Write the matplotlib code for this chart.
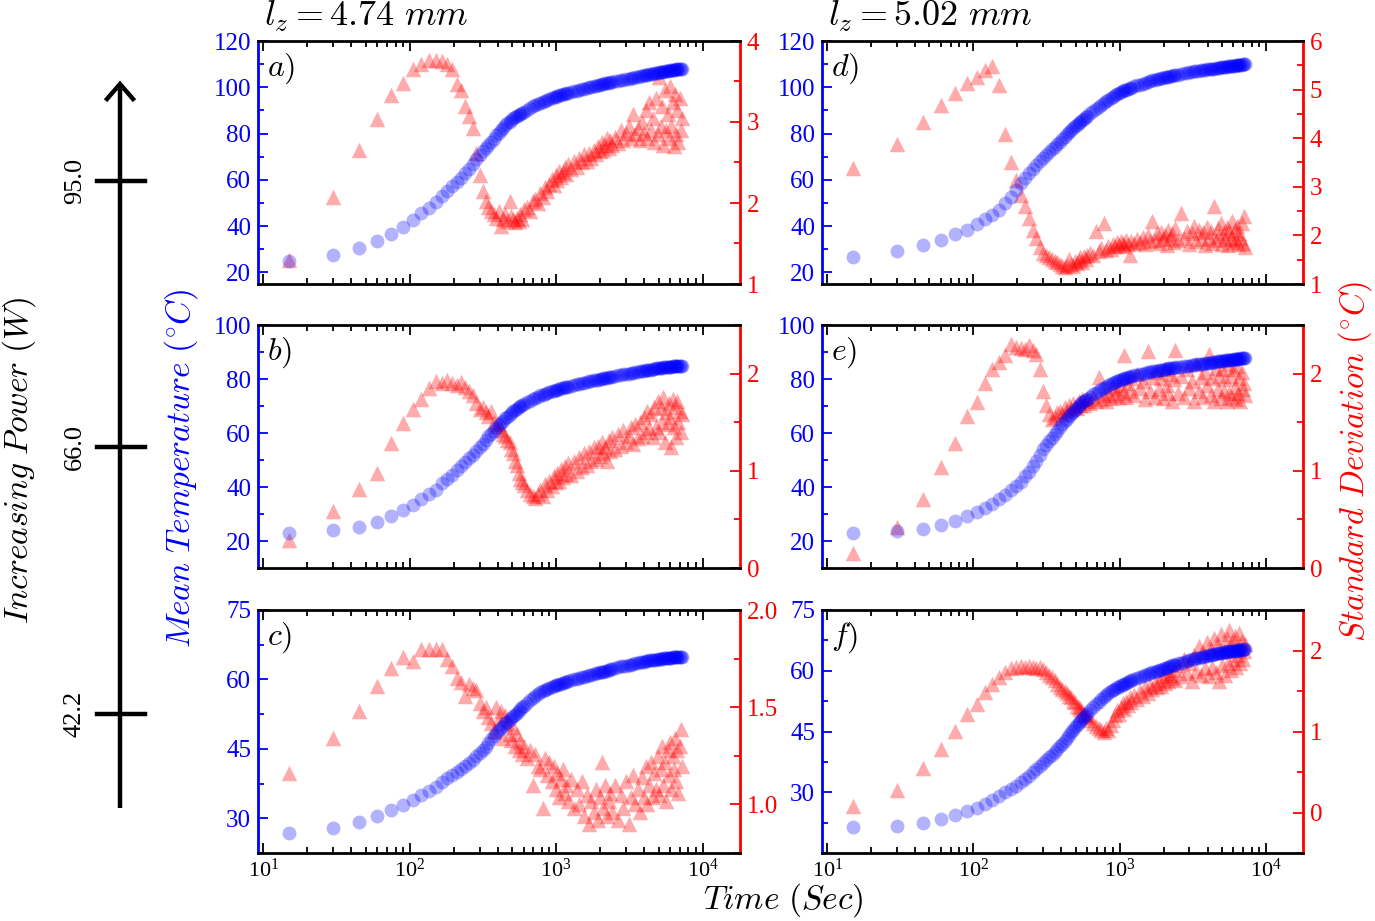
import matplotlib
matplotlib.use("Agg")
import matplotlib.pyplot as plt
import numpy as np
from matplotlib.ticker import FixedLocator, MultipleLocator, LogLocator, FuncFormatter, NullFormatter

plt.rcParams["font.family"] = ["Liberation Serif", "DejaVu Serif"]
plt.rcParams["mathtext.fontset"] = "cm"

# sample times (s), shared by all six runs
time_s = [15, 30, 45, 60, 75, 90, 105, 120, 135, 150,
          165, 180, 195, 210, 225, 240, 255, 270, 285, 300,
          315, 330, 345, 360, 375, 390, 405, 420, 435, 450,
          465, 480, 495, 510, 525, 540, 555, 570, 585, 600,
          630, 660, 690, 720, 750, 780, 810, 840, 870, 900,
          930, 960, 990, 1020, 1050, 1080, 1110, 1140, 1170, 1200,
          1260, 1320, 1380, 1440, 1500, 1560, 1620, 1680, 1740, 1800,
          1860, 1920, 1980, 2040, 2100, 2160, 2220, 2280, 2340, 2400,
          2520, 2640, 2760, 2880, 3000, 3120, 3240, 3360, 3480, 3600,
          3720, 3840, 3960, 4080, 4200, 4320, 4440, 4560, 4680, 4800,
          4920, 5040, 5160, 5280, 5400, 5520, 5640, 5760, 5880, 6000,
          6120, 6240, 6360, 6480, 6600, 6720, 6840, 6960, 7080, 7200]

# lz = 4.74 mm, 95.0 W
temp_a = [25, 27.5, 30.5, 33.5, 36.5, 39.5, 42.5, 45.5, 48, 50.5,
          53, 55.3, 57.3, 59.2, 61, 62.8, 64.8, 66.8, 68.8, 70.7,
          72.3, 73.8, 75.2, 76.5, 77.8, 79.2, 80.4, 81.5, 82.5, 83.5,
          84.4, 85.2, 85.9, 86.6, 87.1, 87.5, 88, 88.5, 89, 89.5,
          90.3, 91.1, 91.7, 92.3, 92.8, 93.3, 93.8, 94.2, 94.6, 95,
          95.3, 95.6, 95.9, 96.2, 96.5, 96.7, 97, 97.2, 97.4, 97.6,
          98, 98.3, 98.6, 98.9, 99.2, 99.4, 99.7, 100, 100.2, 100.4,
          100.7, 100.9, 101.1, 101.3, 101.5, 101.7, 101.8, 102, 102.1, 102.2,
          102.5, 102.8, 103, 103.3, 103.5, 103.7, 103.9, 104.2, 104.4, 104.6,
          104.8, 105, 105.1, 105.3, 105.5, 105.6, 105.8, 105.9, 106.1, 106.2,
          106.3, 106.5, 106.6, 106.7, 106.8, 106.9, 107, 107.1, 107.2, 107.3,
          107.4, 107.5, 107.5, 107.6, 107.7, 107.8, 107.8, 107.9, 108, 108]
std_a = [1.3, 2.08, 2.66, 3.04, 3.33, 3.48, 3.66, 3.72, 3.76, 3.76,
         3.75, 3.72, 3.66, 3.47, 3.4, 3.2, 3.08, 2.93, 2.62, 2.35,
         2.15, 2.02, 1.95, 1.9, 1.86, 1.82, 1.9, 1.72, 1.8, 1.86,
         1.78, 2.02, 1.84, 1.8, 1.76, 1.82, 1.78, 1.86, 1.8, 1.92,
         1.95, 1.9, 2.02, 2.05, 2.0, 2.12, 2.08, 2.2, 2.15, 2.24,
         2.3, 2.22, 2.35, 2.28, 2.4, 2.32, 2.38, 2.45, 2.36, 2.48,
         2.42, 2.52, 2.45, 2.56, 2.5, 2.6, 2.52, 2.62, 2.56, 2.66,
         2.6, 2.7, 2.64, 2.75, 2.66, 2.72, 2.8, 2.68, 2.78, 2.72,
         2.82, 2.74, 2.9, 2.78, 2.86, 2.95, 2.8, 3.1, 2.85, 2.92,
         2.78, 3.0, 2.86, 3.15, 2.8, 3.25, 2.9, 3.05, 2.75, 3.3,
         2.85, 3.55, 2.95, 3.2, 2.72, 3.4, 2.9, 3.1, 2.8, 3.45,
         2.95, 3.25, 2.7, 3.35, 2.85, 3.15, 2.75, 3.3, 2.9, 3.05]

# lz = 4.74 mm, 66.0 W
temp_b = [23, 24, 25.3, 27, 29.2, 31.4, 33.5, 35.5, 37.3, 39,
          41.3, 43, 44.6, 46.2, 47.7, 49.2, 50.6, 52, 53.4, 54.8,
          56, 57.3, 58.8, 59.8, 60.9, 62, 62.9, 63.8, 64.6, 65.4,
          66.1, 66.8, 67.4, 68, 68.5, 69, 69.5, 69.9, 70.3, 70.7,
          71.4, 72, 72.5, 73, 73.5, 73.9, 74.2, 74.6, 74.9, 75.2,
          75.5, 75.7, 76, 76.1, 76.3, 76.5, 76.7, 76.9, 77.1, 77.2,
          77.5, 77.8, 78, 78.2, 78.5, 78.7, 78.9, 79.1, 79.3, 79.5,
          79.6, 79.8, 79.9, 80.1, 80.2, 80.4, 80.5, 80.6, 80.8, 80.9,
          81.1, 81.3, 81.5, 81.7, 81.9, 82, 82.2, 82.3, 82.5, 82.6,
          82.8, 82.9, 83, 83.2, 83.3, 83.4, 83.5, 83.7, 83.8, 83.9,
          84, 84.1, 84.2, 84.2, 84.3, 84.4, 84.4, 84.5, 84.5, 84.6,
          84.6, 84.7, 84.7, 84.8, 84.8, 84.9, 84.9, 84.9, 85, 85]
std_b = [0.29, 0.59, 0.81, 0.98, 1.29, 1.49, 1.64, 1.74, 1.85, 1.92,
         1.9, 1.93, 1.9, 1.88, 1.91, 1.86, 1.82, 1.78, 1.7, 1.64,
         1.66, 1.6, 1.56, 1.62, 1.5, 1.46, 1.48, 1.42, 1.38, 1.36,
         1.32, 1.3, 1.22, 1.18, 1.1, 1.06, 0.98, 0.92, 0.88, 0.85,
         0.8, 0.76, 0.74, 0.72, 0.76, 0.8, 0.74, 0.86, 0.8, 0.9,
         0.84, 0.95, 0.88, 0.98, 0.9, 1.02, 0.94, 1.05, 0.97, 1.08,
         0.96, 1.1, 1.0, 1.14, 1.04, 1.18, 1.06, 1.2, 1.1, 1.24,
         1.12, 1.26, 1.15, 1.3, 1.18, 1.25, 1.1, 1.32, 1.2, 1.35,
         1.22, 1.38, 1.26, 1.42, 1.3, 1.36, 1.45, 1.28, 1.48, 1.34,
         1.5, 1.36, 1.55, 1.4, 1.62, 1.44, 1.58, 1.35, 1.66, 1.45,
         1.72, 1.4, 1.65, 1.5, 1.76, 1.3, 1.6, 1.48, 1.7, 1.55,
         1.25, 1.74, 1.45, 1.66, 1.35, 1.72, 1.5, 1.62, 1.4, 1.58]

# lz = 4.74 mm, 42.2 W
temp_c = [26.8, 28, 29.1, 30.5, 31.7, 32.8, 34, 35, 35.9, 36.8,
          37.9, 38.7, 39.4, 40, 40.6, 41.3, 42, 42.7, 43.4, 44.1,
          44.8, 45.5, 46.2, 47.2, 47.8, 48.4, 49, 49.5, 50, 50.5,
          50.9, 51.3, 51.7, 52, 52.4, 52.8, 53.2, 53.6, 54, 54.3,
          54.9, 55.5, 56, 56.4, 56.8, 57.2, 57.5, 57.7, 57.9, 58.1,
          58.3, 58.5, 58.7, 58.8, 59, 59.1, 59.3, 59.4, 59.5, 59.6,
          59.8, 60, 60.2, 60.3, 60.5, 60.6, 60.8, 60.9, 61, 61.1,
          61.3, 61.4, 61.5, 61.6, 61.7, 61.8, 61.9, 62, 62.2, 62.3,
          62.5, 62.6, 62.8, 62.9, 63, 63.1, 63.2, 63.4, 63.5, 63.6,
          63.7, 63.7, 63.8, 63.9, 64, 64.1, 64.1, 64.2, 64.3, 64.3,
          64.4, 64.4, 64.5, 64.5, 64.6, 64.6, 64.6, 64.7, 64.7, 64.7,
          64.7, 64.8, 64.8, 64.8, 64.8, 64.9, 64.9, 64.9, 64.9, 64.9]
std_c = [1.16, 1.34, 1.48, 1.61, 1.7, 1.76, 1.74, 1.8, 1.8, 1.8,
         1.8, 1.75, 1.71, 1.65, 1.63, 1.56, 1.62, 1.6, 1.59, 1.52,
         1.48, 1.5, 1.45, 1.42, 1.38, 1.5, 1.44, 1.48, 1.34, 1.46,
         1.42, 1.36, 1.33, 1.4, 1.3, 1.36, 1.28, 1.32, 1.26, 1.3,
         1.24, 1.28, 1.1, 1.26, 1.2, 1.18, 0.98, 1.24, 1.15, 1.22,
         1.12, 1.2, 1.08, 1.16, 1.04, 1.13, 1.18, 1.06, 1.1, 1.02,
         1.13, 0.98, 1.08, 1.0, 1.12, 0.94, 1.05, 0.9, 1.02, 0.96,
         1.08, 0.92, 1.04, 1.22, 0.98, 1.1, 0.94, 1.02, 1.06, 0.96,
         1.1, 0.92, 1.05, 0.98, 1.12, 0.9, 1.04, 1.15, 1.0, 1.08,
         0.96, 1.14, 1.04, 1.2, 1.0, 1.1, 1.22, 1.04, 1.16, 1.08,
         1.25, 1.05, 1.18, 1.3, 1.1, 1.22, 1.02, 1.28, 1.15, 1.32,
         1.08, 1.25, 1.18, 1.34, 1.12, 1.28, 1.06, 1.3, 1.39, 1.2]

# lz = 5.02 mm, 95.0 W
temp_d = [26.6, 29.2, 31.7, 34.2, 36.4, 38.5, 40.9, 42.9, 44.8, 47,
          49.9, 52.8, 55.8, 58.7, 60.9, 62.9, 64.8, 66.5, 68, 69.4,
          70.8, 72, 73.2, 74.3, 75.3, 76.5, 77.6, 78.6, 79.6, 80.5,
          81.4, 82.3, 83.1, 83.9, 84.6, 85.2, 85.9, 86.5, 87.1, 87.6,
          88.7, 89.8, 90.8, 91.6, 92.4, 93.2, 93.9, 94.6, 95.3, 96,
          96.6, 97.1, 97.6, 98, 98.4, 98.7, 99, 99.3, 99.6, 99.9,
          100.4, 100.8, 101.2, 101.6, 102, 102.4, 102.7, 103.1, 103.3, 103.5,
          103.7, 103.9, 104.1, 104.3, 104.5, 104.6, 104.8, 104.9, 105.1, 105.2,
          105.5, 105.7, 106, 106.2, 106.5, 106.7, 106.9, 107, 107.2, 107.4,
          107.5, 107.6, 107.7, 107.8, 107.9, 108, 108.1, 108.3, 108.4, 108.5,
          108.6, 108.7, 108.7, 108.8, 108.9, 109, 109.1, 109.2, 109.3, 109.4,
          109.4, 109.5, 109.5, 109.6, 109.7, 109.7, 109.8, 109.9, 109.9, 110]
std_d = [3.38, 3.88, 4.33, 4.69, 4.94, 5.13, 5.25, 5.41, 5.48, 5.1,
         4.09, 3.5, 3.15, 2.84, 2.6, 2.35, 2.11, 1.94, 1.76, 1.63,
         1.6, 1.56, 1.52, 1.48, 1.45, 1.42, 1.38, 1.36, 1.4, 1.52,
         1.42, 1.38, 1.48, 1.44, 1.5, 1.55, 1.46, 1.58, 1.52, 1.6,
         1.64, 1.6, 2.1, 1.68, 1.74, 2.25, 1.7, 1.78, 1.72, 1.83,
         1.78, 1.86, 1.8, 1.88, 1.84, 1.78, 1.9, 1.82, 1.59, 1.88,
         1.84, 1.93, 1.86, 1.97, 1.82, 2.0, 1.88, 2.3, 1.9, 2.05,
         1.85, 2.08, 1.92, 2.0, 1.8, 2.12, 1.95, 2.05, 1.86, 2.15,
         1.9, 2.46, 1.95, 2.1, 1.82, 2.04, 2.2, 1.88, 2.12, 1.92,
         2.06, 1.8, 2.18, 1.95, 2.1, 1.85, 2.6, 1.9, 2.15, 1.98,
         2.25, 1.82, 2.05, 1.92, 2.18, 1.8, 2.1, 1.95, 2.3, 1.86,
         2.12, 1.9, 2.2, 1.82, 2.05, 1.95, 2.25, 1.85, 2.4, 1.76]

# lz = 5.02 mm, 66.0 W
temp_e = [23.1, 23.8, 24.6, 25.9, 27.5, 29.2, 30.7, 32.2, 33.8, 35.5,
          37.2, 38.8, 40.5, 42, 43.9, 45.7, 47.6, 49.5, 51.8, 54,
          55.6, 57, 58.3, 59.6, 60.9, 62.1, 63.2, 64.3, 65.3, 66.3,
          67.1, 67.9, 68.7, 69.4, 70.1, 70.7, 71.3, 71.8, 72.3, 72.7,
          73.5, 74.3, 75, 75.6, 76.2, 76.7, 77.2, 77.7, 78.2, 78.6,
          79, 79.3, 79.6, 79.8, 80.1, 80.3, 80.5, 80.7, 80.9, 81,
          81.3, 81.6, 81.8, 82, 82.3, 82.5, 82.6, 82.8, 83, 83.1,
          83.3, 83.4, 83.5, 83.7, 83.8, 83.9, 84, 84.1, 84.2, 84.3,
          84.5, 84.6, 84.8, 84.9, 85, 85.2, 85.3, 85.4, 85.5, 85.6,
          85.7, 85.8, 85.9, 86, 86.1, 86.2, 86.3, 86.4, 86.5, 86.6,
          86.6, 86.7, 86.8, 86.9, 86.9, 87, 87.1, 87.1, 87.2, 87.3,
          87.3, 87.4, 87.4, 87.5, 87.5, 87.6, 87.6, 87.7, 87.7, 87.8]
std_e = [0.15, 0.42, 0.71, 1.04, 1.29, 1.56, 1.71, 1.9, 2.05, 2.12,
         2.19, 2.3, 2.27, 2.26, 2.25, 2.29, 2.24, 2.2, 2.05, 1.82,
         1.68, 1.58, 1.53, 1.55, 1.6, 1.62, 1.58, 1.66, 1.62, 1.68,
         1.64, 1.7, 1.66, 1.65, 1.72, 1.68, 1.74, 1.68, 1.72, 1.74,
         1.7, 1.76, 1.72, 1.96, 1.74, 1.78, 1.72, 1.8, 1.75, 1.86,
         1.78, 1.84, 1.76, 1.88, 1.8, 2.19, 1.76, 1.9, 1.82, 1.95,
         1.78, 2.0, 1.85, 1.92, 1.74, 2.23, 1.82, 1.96, 1.76, 2.02,
         1.84, 1.95, 1.75, 2.05, 1.88, 1.8, 2.0, 1.72, 1.94, 2.24,
         1.8, 1.98, 1.76, 2.05, 1.85, 1.92, 1.72, 2.1, 1.82, 1.96,
         1.76, 2.02, 1.88, 2.2, 1.78, 1.95, 1.72, 2.06, 1.84, 1.98,
         1.75, 2.05, 1.82, 1.94, 1.72, 2.1, 1.8, 1.98, 1.76, 2.05,
         1.86, 1.74, 2.08, 1.8, 1.95, 1.72, 2.02, 1.84, 1.9, 1.78]

# lz = 5.02 mm, 42.2 W
temp_f = [21.4, 21.7, 22.5, 23.3, 24.3, 25.3, 26.2, 27.2, 28.2, 29.1,
          30, 30.8, 31.6, 32.5, 33.3, 34.1, 34.9, 35.7, 36.5, 37.3,
          38, 38.6, 39.3, 40, 40.6, 41.3, 41.9, 42.6, 43.4, 44.1,
          44.8, 45.4, 46, 46.6, 47.1, 47.6, 48.1, 48.6, 49.1, 49.5,
          50.3, 51.1, 51.8, 52.4, 53, 53.5, 54, 54.5, 54.9, 55.3,
          55.6, 55.9, 56.1, 56.4, 56.6, 56.8, 57, 57.2, 57.4, 57.6,
          57.9, 58.2, 58.5, 58.7, 59, 59.2, 59.4, 59.6, 59.8, 60,
          60.2, 60.3, 60.5, 60.7, 60.8, 61, 61.1, 61.3, 61.4, 61.5,
          61.8, 62, 62.2, 62.4, 62.6, 62.8, 62.9, 63.1, 63.2, 63.4,
          63.5, 63.6, 63.7, 63.8, 63.9, 64, 64.1, 64.2, 64.3, 64.4,
          64.5, 64.5, 64.6, 64.7, 64.7, 64.8, 64.8, 64.9, 64.9, 65,
          65, 65, 65.1, 65.1, 65.1, 65.2, 65.2, 65.2, 65.3, 65.3]
std_f = [0.08, 0.28, 0.55, 0.79, 1.01, 1.21, 1.34, 1.49, 1.59, 1.67,
         1.74, 1.78, 1.8, 1.81, 1.8, 1.81, 1.8, 1.79, 1.8, 1.77,
         1.74, 1.7, 1.67, 1.63, 1.59, 1.55, 1.53, 1.5, 1.47, 1.44,
         1.42, 1.38, 1.36, 1.32, 1.3, 1.28, 1.25, 1.22, 1.2, 1.18,
         1.14, 1.1, 1.07, 1.04, 1.02, 1.0, 1.04, 1.02, 1.08, 1.14,
         1.2, 1.26, 1.22, 1.3, 1.35, 1.28, 1.38, 1.33, 1.42, 1.36,
         1.45, 1.4, 1.5, 1.44, 1.55, 1.48, 1.58, 1.52, 1.6, 1.55,
         1.64, 1.56, 1.68, 1.6, 1.72, 1.62, 1.7, 1.66, 1.76, 1.64,
         1.82, 1.68, 1.9, 1.72, 1.85, 1.62, 1.95, 1.75, 2.05, 1.7,
         1.98, 1.78, 2.1, 1.68, 2.02, 1.8, 2.15, 1.74, 2.08, 1.62,
         2.2, 1.82, 2.0, 1.7, 2.15, 1.85, 2.25, 1.76, 2.1, 1.9,
         2.18, 1.8, 2.05, 1.95, 2.22, 1.85, 2.12, 1.9, 2.0, 2.08]

panel_letters = ["a", "b", "c", "d", "e", "f"]
lz_values = ["4.74", "5.02"]
power_levels = ["95.0", "66.0", "42.2"]

temps = [temp_a, temp_b, temp_c, temp_d, temp_e, temp_f]
stds = [std_a, std_b, std_c, std_d, std_e, std_f]
for arr in temps + stds:
    assert len(arr) == len(time_s), len(arr)

# axis settings per panel: (ylim, major ticks, minor step, label format)
temp_axes = [
    ((15, 120), [20, 40, 60, 80, 100, 120], 10, "%d"),
    ((10, 100), [20, 40, 60, 80, 100], 10, "%d"),
    ((22.5, 75), [30, 45, 60, 75], 7.5, "%d"),
    ((15, 120), [20, 40, 60, 80, 100, 120], 10, "%d"),
    ((10, 100), [20, 40, 60, 80, 100], 10, "%d"),
    ((15, 75), [30, 45, 60, 75], 7.5, "%d"),
]
std_axes = [
    ((1, 4), [1, 2, 3, 4], 0.5, "%d"),
    ((0, 2.5), [0, 1, 2], 0.5, "%d"),
    ((0.75, 2.0), [1.0, 1.5, 2.0], 0.25, "%.1f"),
    ((1, 6), [1, 2, 3, 4, 5, 6], 0.5, "%d"),
    ((0, 2.5), [0, 1, 2], 0.5, "%d"),
    ((-0.5, 2.5), [0, 1, 2], 0.5, "%d"),
]

W, H = 1375, 921
fig = plt.figure(figsize=(W / 100, H / 100), dpi=100)

col_x = [258, 822]
col_w = [482, 481]
row_top = [41, 325, 610]
row_h = 243

TICK = 18

for i in range(6):
    col, row = divmod(i, 3)
    ax = fig.add_axes([col_x[col] / W, 1 - (row_top[row] + row_h) / H,
                       col_w[col] / W, row_h / H])
    ax2 = ax.twinx()
    ax.set_zorder(ax2.get_zorder() + 1)
    ax.patch.set_visible(False)

    ax2.scatter(time_s, stds[i], marker="^", s=125, color="red", alpha=0.33, linewidths=0)
    ax.scatter(time_s, temps[i], marker="o", s=100, color="blue", alpha=0.3, linewidths=0)

    ax.set_xscale("log")
    ax.set_xlim(9.2, 1.8e4)
    ax.xaxis.set_major_locator(LogLocator(base=10, numticks=10))
    ax.xaxis.set_minor_locator(LogLocator(base=10, subs=np.arange(2, 10), numticks=20))
    ax.xaxis.set_minor_formatter(NullFormatter())
    ax.xaxis.set_major_formatter(FuncFormatter(
        lambda v, p: r"$\mathregular{10^{%d}}$" % int(round(np.log10(v)))))

    ylim, major, minor, fmt = temp_axes[i]
    ax.set_ylim(*ylim)
    ax.yaxis.set_major_locator(FixedLocator(major))
    ax.yaxis.set_minor_locator(MultipleLocator(minor))
    ax.yaxis.set_major_formatter(FuncFormatter(lambda v, p, f=fmt: f % v))

    ylim, major, minor, fmt = std_axes[i]
    ax2.set_ylim(*ylim)
    ax2.yaxis.set_major_locator(FixedLocator(major))
    ax2.yaxis.set_minor_locator(MultipleLocator(minor))
    ax2.yaxis.set_major_formatter(FuncFormatter(lambda v, p, f=fmt: f % v))

    ax.tick_params(axis="x", which="both", direction="in", top=True, bottom=True,
                   labelsize=16, width=1.3, pad=4)
    ax.tick_params(axis="x", which="major", length=7)
    ax.tick_params(axis="x", which="minor", length=4)
    ax.tick_params(axis="y", which="both", direction="in", colors="blue",
                   labelsize=TICK, width=1.3, pad=5)
    ax.tick_params(axis="y", which="major", length=7)
    ax.tick_params(axis="y", which="minor", length=4)
    ax2.tick_params(axis="y", which="both", direction="in", colors="red",
                    labelsize=TICK, width=1.3, pad=5)
    ax2.tick_params(axis="y", which="major", length=7)
    ax2.tick_params(axis="y", which="minor", length=4)
    if row < 2:
        ax.tick_params(axis="x", labelbottom=False)

    for side in ["left", "top", "bottom"]:
        ax2.spines[side].set_visible(False)
    ax.spines["right"].set_visible(False)
    ax.spines["left"].set_color("blue")
    ax2.spines["right"].set_color("red")
    for sp in [ax.spines["left"], ax.spines["top"], ax.spines["bottom"], ax2.spines["right"]]:
        sp.set_linewidth(2)

    ax.text(0.018, 0.955, "$%s)$" % panel_letters[i], transform=ax.transAxes,
            ha="left", va="top", fontsize=23)

for col in range(2):
    fig.text((col_x[col] + 6) / W, 1 - 16 / H, r"$l_z = %s\ mm$" % lz_values[col],
             ha="left", va="center", fontsize=26)

fig.text(181 / W, 1 - 468 / H, r"$Mean\ Temperature\ (^{\circ}C)$", color="blue",
         rotation=90, ha="center", va="center", fontsize=24)
fig.text(1355 / W, 1 - 462 / H, r"$Standard\ Deviation\ (^{\circ}C)$", color="red",
         rotation=90, ha="center", va="center", fontsize=23.5)
fig.text(783 / W, 1 - 900 / H, r"$Time\ (Sec)$", ha="center", va="center", fontsize=24)

# power arrow on the left
ax_bg = fig.add_axes([0, 0, 1, 1], zorder=-5)
ax_bg.set_xlim(0, W)
ax_bg.set_ylim(H, 0)
ax_bg.axis("off")
ax_bg.plot([120, 120], [808, 84], color="black", lw=3.2, solid_capstyle="butt")
ax_bg.plot([107, 120, 133], [99, 84, 99], color="black", lw=3.2, solid_joinstyle="miter")
for y, lab in zip([181, 447, 714], power_levels):
    ax_bg.plot([97, 145], [y, y], color="black", lw=3.2)
    ax_bg.text(75, y, lab, rotation=90, ha="center", va="center", fontsize=19)
ax_bg.text(19, 460, r"$Increasing\ Power\ (W)$", rotation=90, ha="center", va="center",
           fontsize=24)

fig.savefig("out.png", dpi=100)
